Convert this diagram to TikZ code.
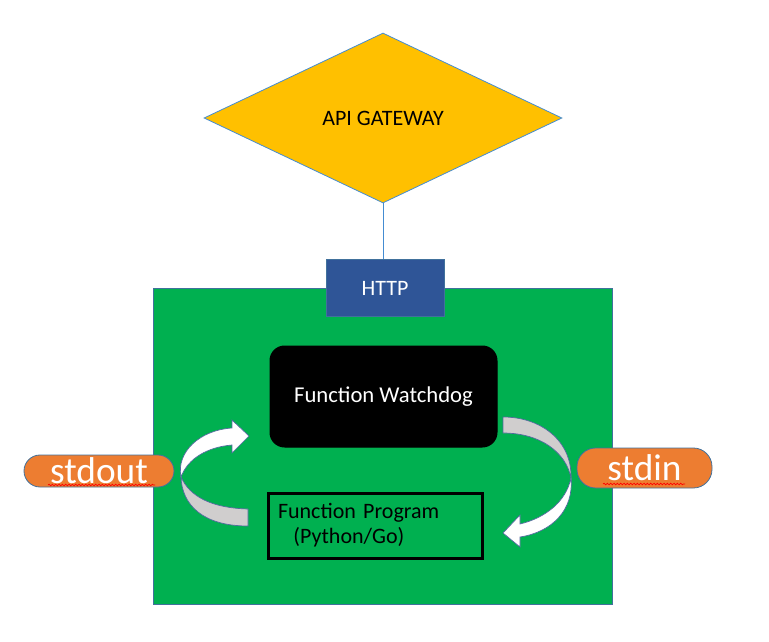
\documentclass[tikz,border=0pt]{standalone}
\usepackage{fontspec}
\setmainfont{Carlito}
\usetikzlibrary{shapes.geometric,decorations.pathmorphing}

\definecolor{gatefill}{RGB}{255,192,0}
\definecolor{wireblue}{RGB}{68,140,210}
\definecolor{httpfill}{RGB}{47,85,151}
\definecolor{boxedge}{RGB}{65,113,156}
\definecolor{podgreen}{RGB}{0,176,80}
\definecolor{pillorange}{RGB}{237,125,49}
\definecolor{ribbongray}{RGB}{208,206,206}
\definecolor{ribbonedge}{RGB}{84,104,160}

\tikzset{every picture/.style={line width=0.75pt}}
\tikzset{
  gate/.style={diamond, draw=wireblue, fill=gatefill, line width=0.6pt, inner sep=0pt,
    minimum width=268.5pt, minimum height=127.5pt, font=\fontsize{16.5}{19}\selectfont},
  pod/.style={rectangle, draw=boxedge, fill=podgreen, line width=0.6pt,
    minimum width=344.25pt, minimum height=237pt},
  port/.style={rectangle, draw=boxedge, fill=httpfill, text=white, line width=0.6pt,
    minimum width=88.5pt, minimum height=42.75pt, font=\fontsize{16.5}{19}\selectfont},
  watch/.style={rectangle, rounded corners=11pt, draw=black, fill=black, text=white,
    minimum width=170.25pt, minimum height=75.75pt, font=\fontsize{17}{19}\selectfont},
  prog/.style={rectangle, draw=black, line width=2.25pt, align=left, text width=145.5pt,
    inner xsep=7.5pt, minimum height=48.75pt, font=\fontsize{16.5}{18.75}\selectfont},
  pill/.style={rectangle, rounded corners=12pt, draw=boxedge, fill=pillorange, text=white,
    line width=0.6pt, inner sep=0pt, font=\fontsize{28}{28}\selectfont},
  wire/.style={draw=wireblue, line width=0.6pt},
  ribbonfront/.style={fill=white, draw=ribbonedge, line width=0.5pt},
  ribbonback/.style={fill=ribbongray, draw=ribbonedge, line width=0.5pt},
  squiggle/.style={draw=red, line width=0.5pt, decorate,
    decoration={snake, amplitude=0.6pt, segment length=2.5pt}}
}

\begin{document}
\begin{tikzpicture}[x=0.75pt,y=0.75pt,yscale=-1,xscale=1]
\useasboundingbox (0,0) rectangle (769,642);

%Shape: Rectangle (container)
\node[pod] (pod) at (382.5,446) {};
%Shape: Rectangle (port)
\node[port] (http) at (385,288) {HTTP};
%Shape: Diamond
\node[gate] (gw) at (383,118) {API GATEWAY};
%Straight Lines
\draw[wire] (gw.south) -- (gw.south |- http.north);

%Shape: Rounded Rectangle
\node[watch] (dog) at (383.5,396.5) {Function Watchdog};
%Shape: Rectangle
\node[prog] (prog) at (375,525.5) {Function Program\\\hspace*{0.7em}(Python/Go)};

%Shape: Curved Arrow (left, back)
\draw[ribbonback] (181,477) .. controls (190,497) and (212,508) .. (248,509) -- (248,526) .. controls (203,526) and (182,505) .. (181,477) -- cycle;
%Shape: Curved Arrow (left, front)
\draw[ribbonfront] (181,477) .. controls (176,452) and (200,430) .. (232,428) -- (232,420) -- (249,436) -- (232,453) -- (232,445) .. controls (208,447) and (188,458) .. (181,477) -- cycle;
%Shape: Curved Arrow (right, back)
\draw[ribbonback] (503,417) .. controls (540,417) and (572,440) .. (571,478) .. controls (566,452) and (540,433) .. (503,433) -- cycle;
%Shape: Curved Arrow (right, front)
\draw[ribbonfront] (571,478) .. controls (574,510) and (552,532) .. (520,537) -- (520,547) -- (503,533) -- (520,515) -- (520,524) .. controls (545,518) and (566,502) .. (571,478) -- cycle;

%Shape: Pills
\node[pill, minimum width=112.5pt, minimum height=24pt] (out) at (99,471) {stdout};
\node[pill, rounded corners=14pt, minimum width=101.25pt, minimum height=30pt] (in) at (644.5,468) {stdin};

%Curve Lines (spelling marks)
\draw[squiggle] (48,485) -- (155,485);
\draw[squiggle] (603,484) -- (685,484);

\end{tikzpicture}
\end{document}
